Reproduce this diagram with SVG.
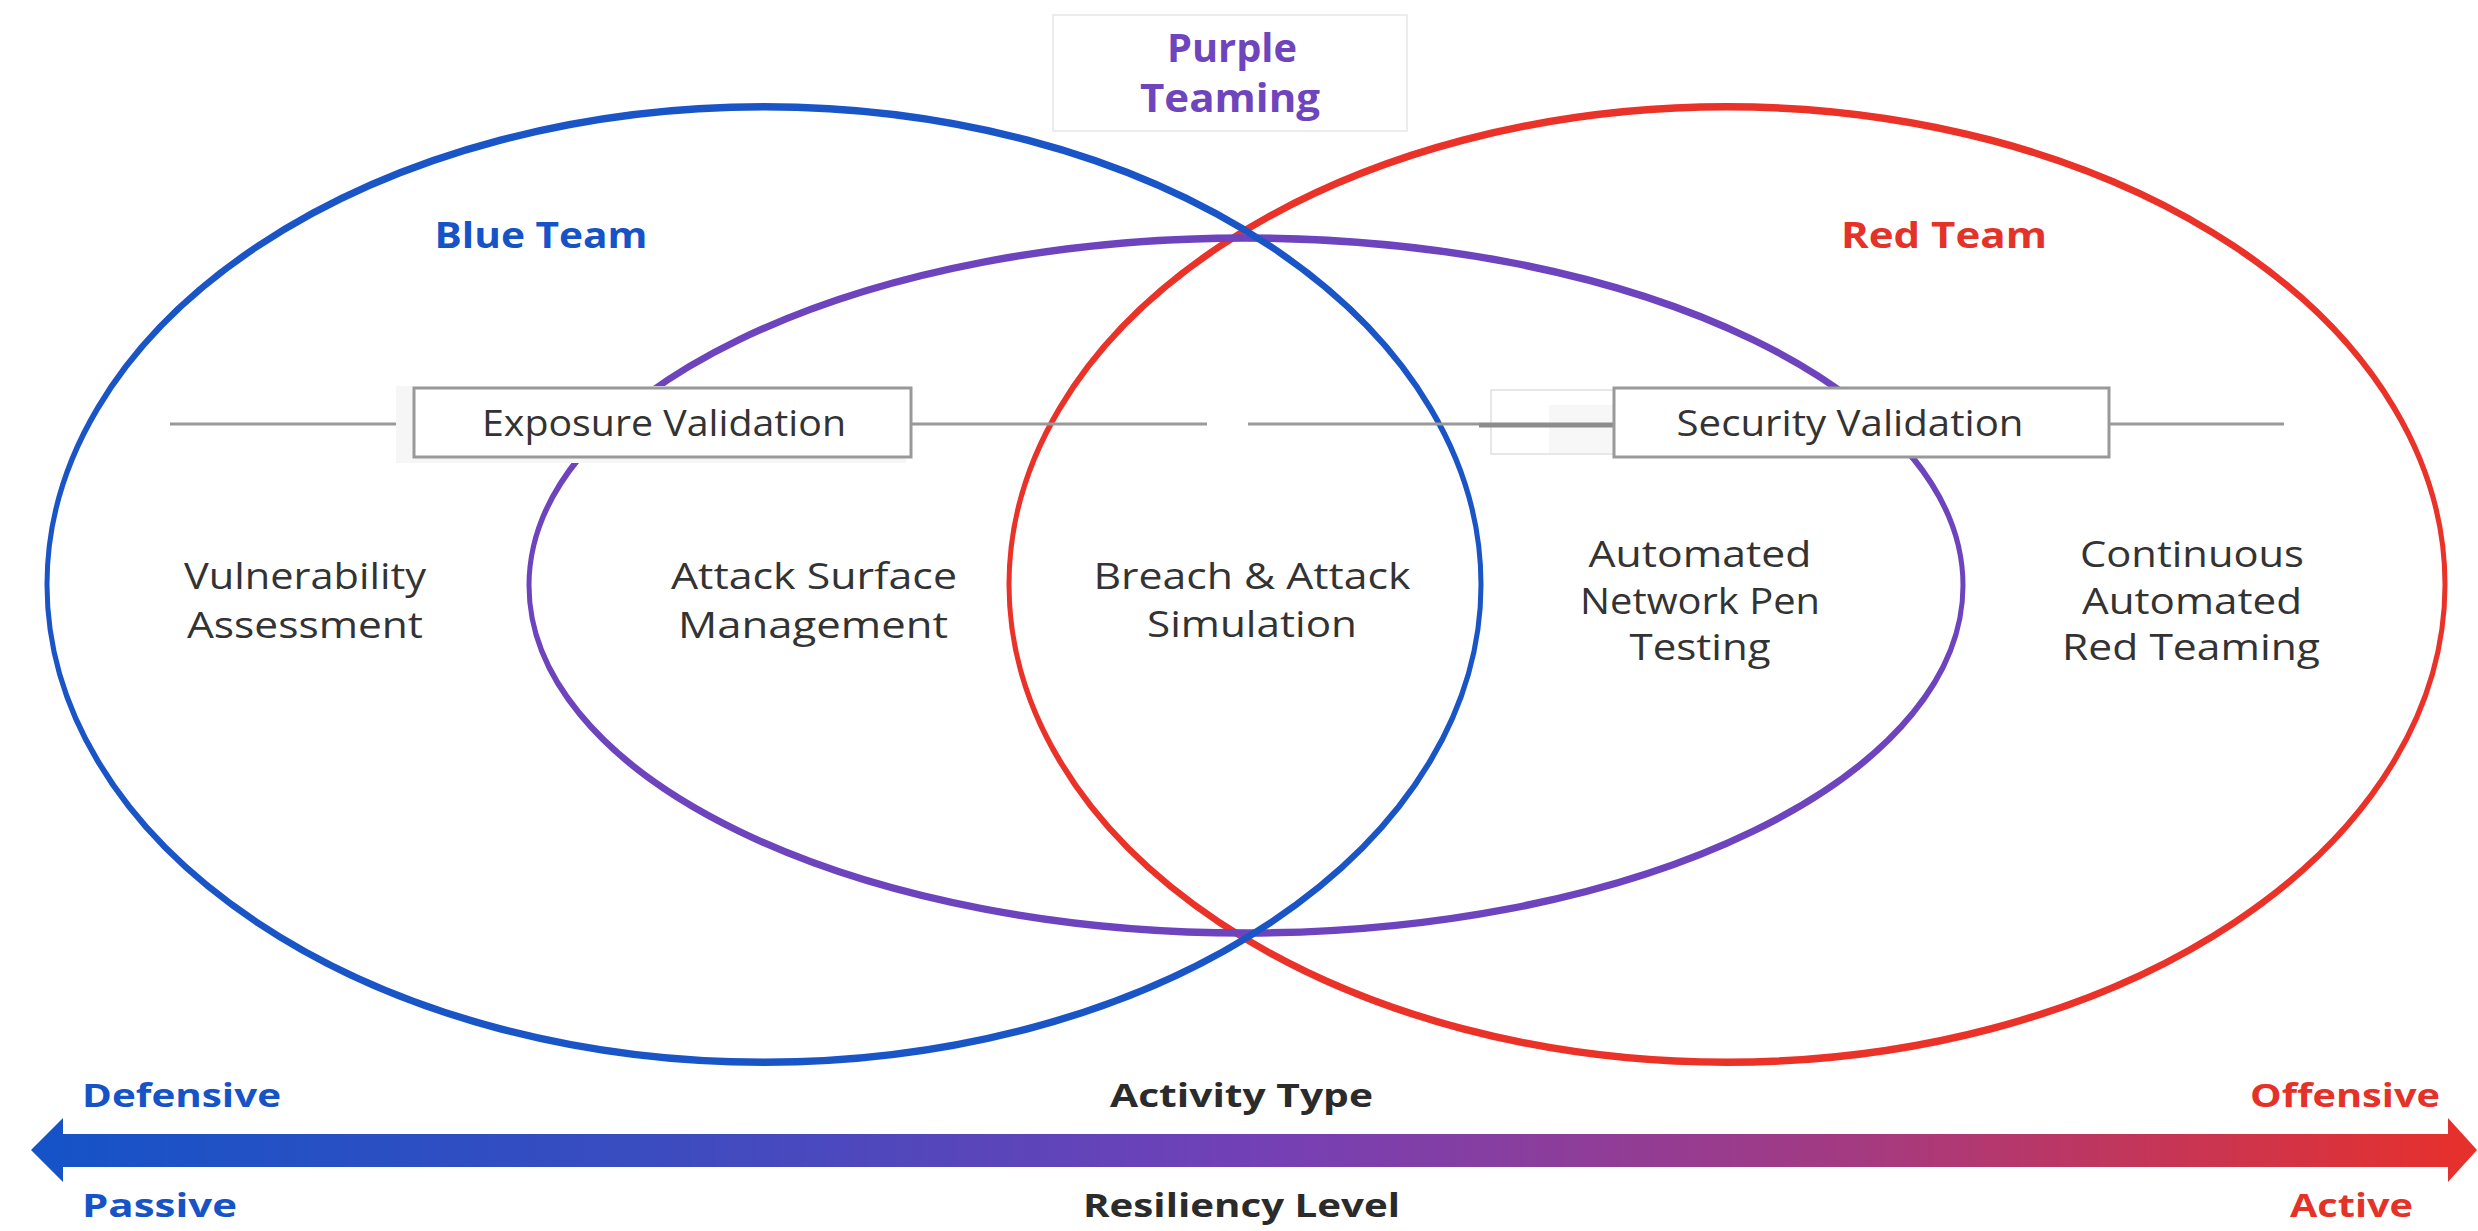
<svg xmlns="http://www.w3.org/2000/svg" width="2478" height="1231" viewBox="0 0 2478 1231">
<style>
.bg{fill:#ffffff}
.ring{fill:none;stroke-width:5}
.blue{stroke:#1a55c8}
.red{stroke:#ea3228}
.purple{stroke:#6d44be}
.lbl{font-family:"Open Sans","Noto Sans","Liberation Sans",sans-serif;font-size:36px;fill:#333333;text-anchor:middle}
.bold{font-family:"Open Sans","Noto Sans","Liberation Sans",sans-serif;font-weight:700;text-anchor:middle}
.box{fill:#ffffff;stroke:#999999;stroke-width:3}
.tick{stroke:#999999;stroke-width:3;fill:none}
</style>
<defs>
<linearGradient id="grad" x1="0" y1="0" x2="1" y2="0">
<stop offset="0" stop-color="#1553c8"/>
<stop offset="0.25" stop-color="#3a4cc0"/>
<stop offset="0.5" stop-color="#7340b6"/>
<stop offset="0.75" stop-color="#a53a80"/>
<stop offset="1" stop-color="#e8302a"/>
</linearGradient>
</defs>
<rect class="bg" x="0" y="0" width="2478" height="1231"/>

<g id="red-team">
<ellipse class="ring red" cx="0" cy="0" rx="718" ry="318.5" transform="translate(1727,584.5) scale(1,1.5)"/>
<text class="bold" x="1944" y="248" font-size="36" fill="#e53228" textLength="206" lengthAdjust="spacingAndGlyphs">Red Team</text>
</g>
<g id="purple-team">
<ellipse class="ring purple" cx="0" cy="0" rx="717" ry="231.7" transform="translate(1246,585.5) scale(1,1.5)"/>
</g>
<g id="blue-team">
<ellipse class="ring blue" cx="0" cy="0" rx="717" ry="318.5" transform="translate(764,584.5) scale(1,1.5)"/>
<text class="bold" x="541" y="248" font-size="36" fill="#1553c7" textLength="213" lengthAdjust="spacingAndGlyphs">Blue Team</text>
</g>

<g id="purple-teaming">
<rect x="1053" y="15" width="354" height="116" fill="#ffffff" stroke="#e6e6e6" stroke-width="1.5"/>
<text class="bold" x="1232" y="62" font-size="40" fill="#6f45bd" textLength="130" lengthAdjust="spacingAndGlyphs">Purple</text>
<text class="bold" x="1230" y="112" font-size="40" fill="#6f45bd" textLength="180" lengthAdjust="spacingAndGlyphs">Teaming</text>
</g>

<g id="connectors">
<line class="tick" x1="170" y1="424" x2="414" y2="424"/>
<line class="tick" x1="911" y1="424" x2="1207" y2="424"/>
<line class="tick" x1="1248" y1="424" x2="1479" y2="424"/>
<line class="tick" x1="2109" y1="424" x2="2284" y2="424"/>
</g>

<g id="exposure-validation">
<rect x="396" y="386" width="510" height="77" fill="#f6f6f6"/>
<rect class="box" x="414" y="388" width="497" height="69"/>
<text class="lbl" x="664" y="436" textLength="364" lengthAdjust="spacingAndGlyphs" fill="#000000">Exposure Validation</text>
</g>

<g id="security-validation">
<rect x="1491" y="390" width="200" height="64" fill="#ffffff" stroke="#e0e0e0" stroke-width="1.5"/>
<rect x="1549" y="405" width="100" height="48" fill="#f7f7f7"/>
<line x1="1479" y1="425" x2="1614" y2="425" stroke="#8c8c8c" stroke-width="5"/>
<rect class="box" x="1614" y="388" width="495" height="69"/>
<text class="lbl" x="1850" y="436" textLength="347" lengthAdjust="spacingAndGlyphs" fill="#000000">Security Validation</text>
</g>

<g id="vulnerability-assessment">
<text class="lbl" x="305" y="589" textLength="242" lengthAdjust="spacingAndGlyphs">Vulnerability</text>
<text class="lbl" x="305" y="638" textLength="236" lengthAdjust="spacingAndGlyphs">Assessment</text>
</g>
<g id="attack-surface-management">
<text class="lbl" x="814" y="589" textLength="286" lengthAdjust="spacingAndGlyphs">Attack Surface</text>
<text class="lbl" x="813" y="638" textLength="270" lengthAdjust="spacingAndGlyphs">Management</text>
</g>
<g id="breach-attack-simulation">
<text class="lbl" x="1252" y="589" textLength="317" lengthAdjust="spacingAndGlyphs">Breach &amp; Attack</text>
<text class="lbl" x="1252" y="637" textLength="210" lengthAdjust="spacingAndGlyphs">Simulation</text>
</g>
<g id="automated-network-pen-testing">
<text class="lbl" x="1700" y="567" textLength="223" lengthAdjust="spacingAndGlyphs">Automated</text>
<text class="lbl" x="1700" y="614" textLength="240" lengthAdjust="spacingAndGlyphs">Network Pen</text>
<text class="lbl" x="1700" y="660" textLength="141" lengthAdjust="spacingAndGlyphs">Testing</text>
</g>
<g id="continuous-automated-red-teaming">
<text class="lbl" x="2192" y="567" textLength="224" lengthAdjust="spacingAndGlyphs">Continuous</text>
<text class="lbl" x="2192" y="614" textLength="220" lengthAdjust="spacingAndGlyphs">Automated</text>
<text class="lbl" x="2191" y="660" textLength="258" lengthAdjust="spacingAndGlyphs">Red Teaming</text>
</g>

<g id="scale-arrow">
<path d="M31,1150 L63,1118 L63,1134 L2448,1134 L2448,1118 L2477,1150 L2448,1182 L2448,1167 L63,1167 L63,1182 Z" fill="url(#grad)"/>
<text class="bold" x="181.5" y="1107" font-size="32" fill="#1553c7" textLength="199" lengthAdjust="spacingAndGlyphs">Defensive</text>
<text class="bold" x="159.5" y="1217" font-size="32" fill="#1553c7" textLength="155" lengthAdjust="spacingAndGlyphs">Passive</text>
<text class="bold" x="1241.5" y="1107" font-size="32" fill="#2b2b2b" textLength="263" lengthAdjust="spacingAndGlyphs">Activity Type</text>
<text class="bold" x="1241.5" y="1217" font-size="32" fill="#2b2b2b" textLength="317" lengthAdjust="spacingAndGlyphs">Resiliency Level</text>
<text class="bold" x="2345" y="1107" font-size="32" fill="#e53228" textLength="190" lengthAdjust="spacingAndGlyphs">Offensive</text>
<text class="bold" x="2351.5" y="1217" font-size="32" fill="#e53228" textLength="123" lengthAdjust="spacingAndGlyphs">Active</text>
</g>
</svg>
